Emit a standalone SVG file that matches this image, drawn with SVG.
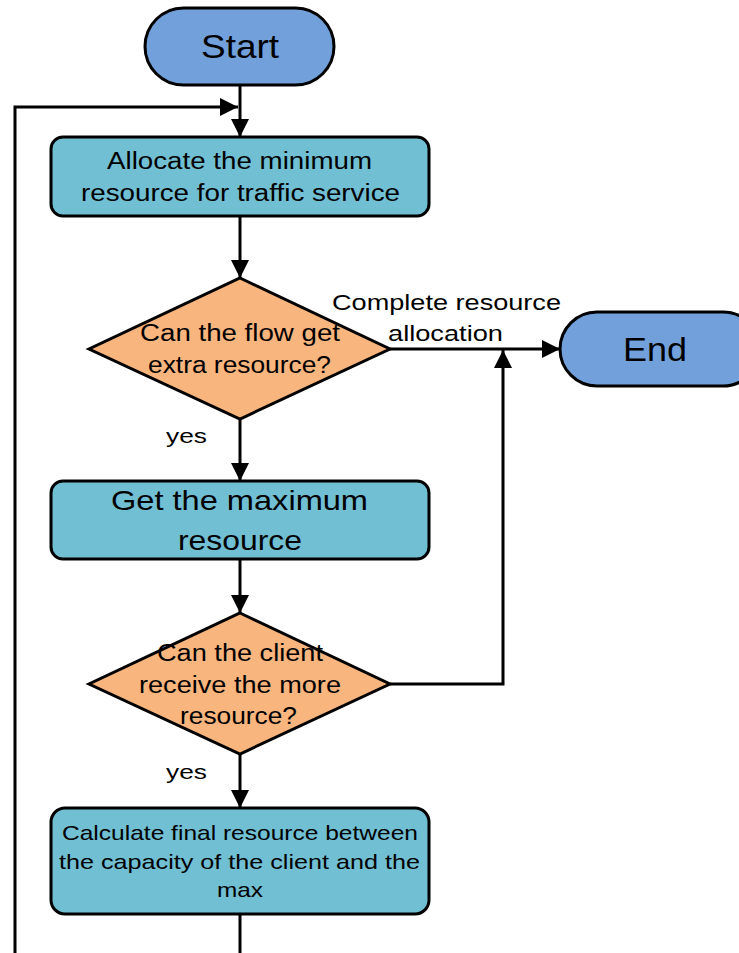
<svg xmlns="http://www.w3.org/2000/svg" width="739" height="953" viewBox="0 0 739 953">
<style>
.term{fill:#72a0db;stroke:#000;stroke-width:3}
.proc{fill:#71bfd3;stroke:#000;stroke-width:3}
.dec{fill:#f8b57e;stroke:#000;stroke-width:3}
.ln{fill:none;stroke:#000;stroke-width:3}
text{font-family:"Liberation Sans",Arial,sans-serif;fill:#000;text-anchor:middle}
</style>
<defs>
<marker id="ah" viewBox="0 0 10 10" refX="10" refY="5" markerWidth="6" markerHeight="6" markerUnits="strokeWidth" orient="auto">
<path d="M0,0 L10,5 L0,10 Z" fill="#000"/>
</marker>
</defs>
<rect width="739" height="953" fill="#fff"/>
<g id="connectors">
<line class="ln" x1="240" y1="85" x2="240" y2="137" marker-end="url(#ah)"/>
<polyline class="ln" points="15,953 15,107 238,107" marker-end="url(#ah)"/>
<line class="ln" x1="240" y1="216" x2="240" y2="278" marker-end="url(#ah)"/>
<line class="ln" x1="390" y1="349" x2="560" y2="349" marker-end="url(#ah)"/>
<line class="ln" x1="240" y1="419" x2="240" y2="481" marker-end="url(#ah)"/>
<line class="ln" x1="240" y1="559" x2="240" y2="613" marker-end="url(#ah)"/>
<polyline class="ln" points="390,684 503,684 503,350" marker-end="url(#ah)"/>
<line class="ln" x1="240" y1="754" x2="240" y2="808" marker-end="url(#ah)"/>
<line class="ln" x1="240" y1="914" x2="240" y2="953"/>
<text x="446.5" y="310" font-size="22" textLength="229" lengthAdjust="spacingAndGlyphs">Complete resource</text>
<text x="445.5" y="341" font-size="22" textLength="115" lengthAdjust="spacingAndGlyphs">allocation</text>
<text x="186.5" y="443" font-size="21" textLength="41" lengthAdjust="spacingAndGlyphs">yes</text>
<text x="186.5" y="779" font-size="21" textLength="41" lengthAdjust="spacingAndGlyphs">yes</text>
</g>
<g id="start">
<rect class="term" x="145" y="8" width="189" height="77" rx="38.5"/>
<text x="240" y="58" font-size="34" textLength="78" lengthAdjust="spacingAndGlyphs">Start</text>
</g>
<g id="allocate">
<rect class="proc" x="51" y="137" width="378" height="79" rx="12"/>
<text x="239.5" y="169" font-size="23" textLength="265" lengthAdjust="spacingAndGlyphs">Allocate the minimum</text>
<text x="240.5" y="201" font-size="23" textLength="319" lengthAdjust="spacingAndGlyphs">resource for traffic service</text>
</g>
<g id="decision1">
<polygon class="dec" points="240,278 390,349 240,419 89,349"/>
<text x="240" y="341" font-size="23" textLength="200" lengthAdjust="spacingAndGlyphs">Can the flow get</text>
<text x="239.5" y="373" font-size="23" textLength="183" lengthAdjust="spacingAndGlyphs">extra resource?</text>
</g>
<g id="end">
<rect class="term" x="560" y="312" width="200" height="74" rx="37"/>
<text x="655" y="361" font-size="34" textLength="64" lengthAdjust="spacingAndGlyphs">End</text>
</g>
<g id="getmax">
<rect class="proc" x="51" y="481" width="378" height="78" rx="12"/>
<text x="239.5" y="510" font-size="28" textLength="257" lengthAdjust="spacingAndGlyphs">Get the maximum</text>
<text x="240" y="550" font-size="28" textLength="124" lengthAdjust="spacingAndGlyphs">resource</text>
</g>
<g id="decision2">
<polygon class="dec" points="240,613 390,684 240,754 89,684"/>
<text x="240" y="661" font-size="23" textLength="166" lengthAdjust="spacingAndGlyphs">Can the client</text>
<text x="240" y="693" font-size="23" textLength="202" lengthAdjust="spacingAndGlyphs">receive the more</text>
<text x="238.5" y="724" font-size="23" textLength="117" lengthAdjust="spacingAndGlyphs">resource?</text>
</g>
<g id="calculate">
<rect class="proc" x="51" y="808" width="378" height="106" rx="14"/>
<text x="240" y="840" font-size="21" textLength="356" lengthAdjust="spacingAndGlyphs">Calculate final resource between</text>
<text x="239.5" y="869" font-size="21" textLength="361" lengthAdjust="spacingAndGlyphs">the capacity of the client and the</text>
<text x="240" y="897" font-size="21" textLength="46" lengthAdjust="spacingAndGlyphs">max</text>
</g>
</svg>
